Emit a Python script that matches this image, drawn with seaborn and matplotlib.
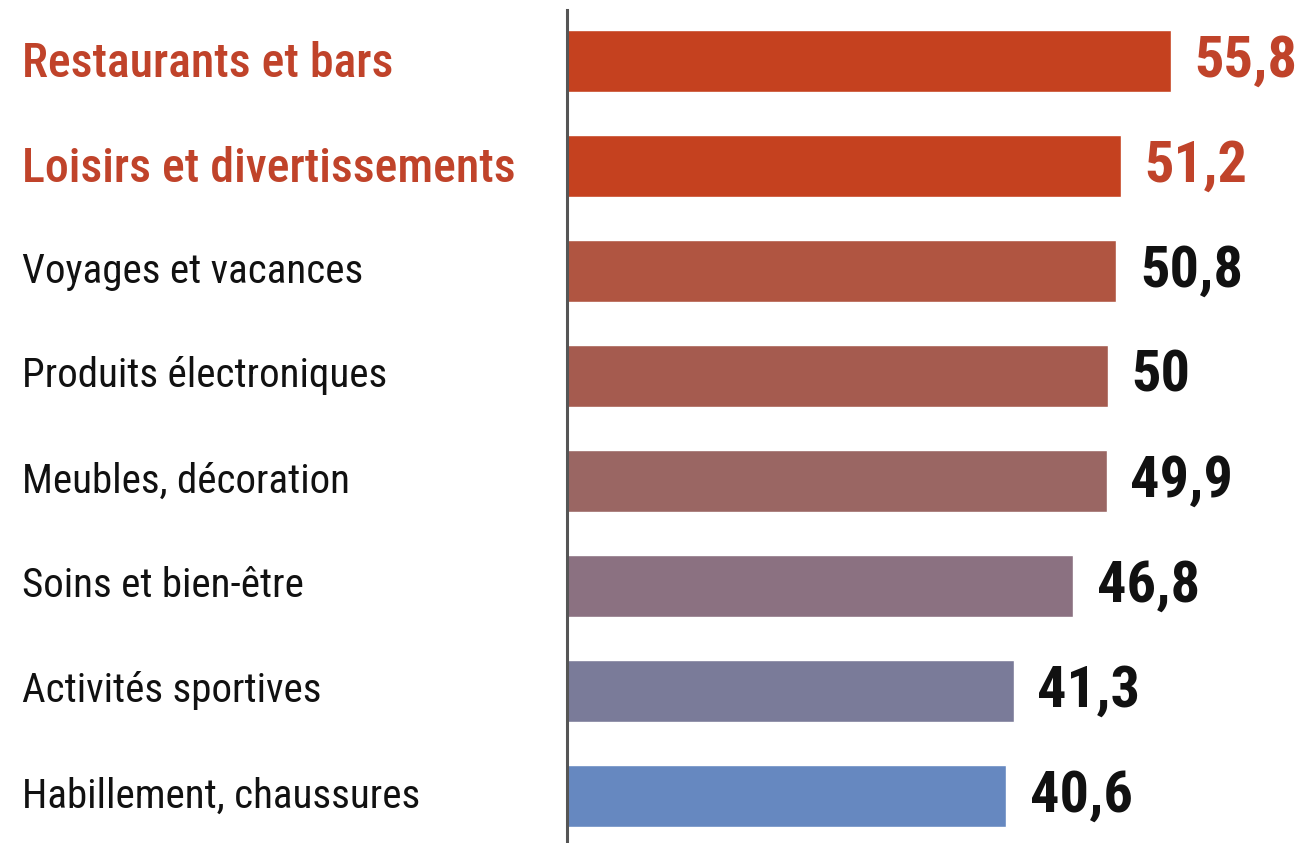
import matplotlib
matplotlib.use("Agg")
import matplotlib.pyplot as plt
from matplotlib import font_manager
from matplotlib.transforms import blended_transform_factory
import seaborn as sns
import pandas as pd

categories = [
    "Restaurants et bars",
    "Loisirs et divertissements",
    "Voyages et vacances",
    "Produits électroniques",
    "Meubles, décoration",
    "Soins et bien-être",
    "Activités sportives",
    "Habillement, chaussures",
]
values = [55.8, 51.2, 50.8, 50.0, 49.9, 46.8, 41.3, 40.6]
bar_colors = ["#C5411F", "#C5411F", "#B05541", "#A55B4F", "#9A6663",
              "#8B7181", "#7A7B99", "#6688C0"]
highlight = [True, True, False, False, False, False, False, False]

RED = "#C0432A"
DARK = "#111111"

sns.set_theme(style="white")
available = {f.name for f in font_manager.fontManager.ttflist}
preferred = ["Roboto Condensed", "PT Sans Narrow", "Archivo Narrow", "Liberation Sans"]
family = next((f for f in preferred if f in available), "DejaVu Sans")
plt.rcParams["font.family"] = [family, "DejaVu Sans"]

df = pd.DataFrame({"category": categories, "value": values})

fig = plt.figure(figsize=(13.09, 8.43), dpi=100)
ax = fig.add_axes([567 / 1309, 0.0, 1 - 567 / 1309, (843 - 10) / 843])

sns.barplot(data=df, y="category", x="value", hue="category",
            order=categories, hue_order=categories,
            palette=bar_colors, orient="h", width=0.59,
            legend=False, ax=ax, saturation=1)

ax.set_xlim(0, 68.6)
ax.set_ylim(7.448, -0.486)
ax.set_xlabel("")
ax.set_ylabel("")
ax.set_xticks([])
ax.set_yticks([])
for side in ["top", "right", "bottom"]:
    ax.spines[side].set_visible(False)
ax.spines["left"].set_color("#555555")
ax.spines["left"].set_linewidth(2.2)

# value labels at the end of each bar
for container, v, hl in zip(ax.containers, values, highlight):
    txt = f"{v:g}".replace(".", ",")
    ax.bar_label(container, labels=[txt], padding=17,
                 fontsize=42, fontweight="bold",
                 color=RED if hl else DARK)

# category names, left-aligned at the figure edge
trans = blended_transform_factory(fig.transFigure, ax.transData)
for i, (name, hl) in enumerate(zip(categories, highlight)):
    ax.text(22 / 1309, i + (0.03 if hl else 0.0), name, transform=trans,
            ha="left", va="center",
            fontsize=34.5 if hl else 29.5, color=RED if hl else DARK,
            fontweight="medium" if hl else "normal")

fig.savefig("out.png", dpi=100, facecolor="white")
